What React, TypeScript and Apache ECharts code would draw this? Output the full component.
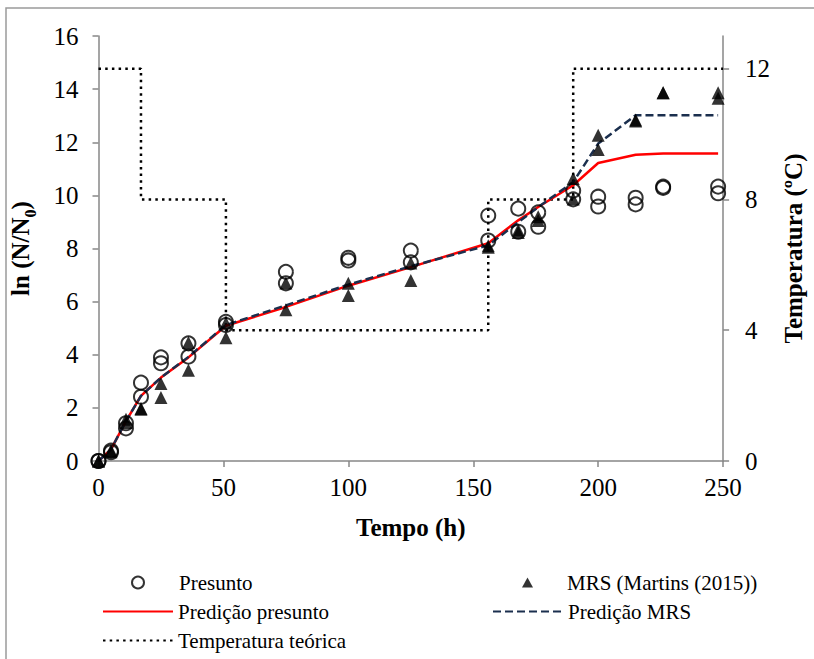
import React, { useEffect, useRef } from "react";
import * as echarts from "echarts";

const times = [0, 5, 11, 17, 25, 36, 51, 75, 100, 125, 156, 168, 176, 190, 200, 215, 226, 248];
const presuntoA = [0, 0.39, 1.42, 2.95, 3.9, 4.43, 5.24, 7.12, 7.65, 7.92, 9.24, 9.5, 9.36, 10.18, 9.95, 9.91, 10.33, 10.33];
const presuntoB = [0, 0.33, 1.23, 2.42, 3.68, 3.93, 5.12, 6.69, 7.55, 7.48, 8.3, 8.63, 8.82, 9.85, 9.58, 9.66, 10.28, 10.08];
const mrsA = [0, 0.4, 1.57, 1.98, 2.92, 4.46, 5.2, 6.7, 6.69, 7.45, 8.1, 8.7, 9.2, 10.64, 12.26, 12.84, 13.86, 13.86];
const mrsB = [0, 0.35, 1.45, 1.95, 2.39, 3.42, 4.64, 5.69, 6.23, 6.8, 8.05, 8.6, 9.05, 9.86, 11.73, 12.8, 13.86, 13.66];
const predPresunto = [0, 0.44, 1.5, 2.45, 3.14, 3.9, 5.09, 5.8, 6.6, 7.3, 8.2, 9.06, 9.56, 10.38, 11.22, 11.53, 11.58, 11.58];
const predMRS = [0, 0.44, 1.5, 2.45, 3.14, 3.92, 5.12, 5.86, 6.64, 7.33, 8.12, 8.99, 9.56, 10.5, 11.95, 13.02, 13.02, 13.02];
const tempTimes = [0, 17, 17, 51, 51, 156, 156, 190, 190, 250];
const tempValues = [12, 12, 8, 8, 4, 4, 8, 8, 12, 12];
const tempTicks = [0, 4, 8, 12];

const FONT = "'Liberation Serif', 'Times New Roman', serif";

export default function App() {
  const ref = useRef<HTMLDivElement>(null);
  useEffect(() => {
    if (!ref.current) return;
    const chart = echarts.init(ref.current, null, { renderer: "svg" });
    const pair = (xs: number[], ys: number[]) => xs.map((x, i) => [x, ys[i]]);
    const circleStyle = { color: "rgba(255,255,255,0)", borderColor: "#000", borderWidth: 2 };
    const triStyle = { color: "#000" };
    const legendText = { fontFamily: FONT, fontSize: 21, color: "#000" };
    const axisLine = { show: true, lineStyle: { color: "#878787", width: 1.5 } };
    const axisTick = { show: true, inside: false, length: 6, lineStyle: { color: "#878787", width: 1.5 } };
    const tickFont = { fontFamily: FONT, fontSize: 25, color: "#000" };
    const nameFont = { fontFamily: FONT, fontSize: 25, fontWeight: "bold", color: "#000" };
    const lineLegend = (name: string, left: number, top: number) => ({
      data: [name],
      left,
      top,
      itemWidth: 70,
      itemHeight: 12,
      itemStyle: { opacity: 0 },
      textStyle: legendText,
    });
    chart.setOption({
      animation: false,
      backgroundColor: "#fff",
      grid: { left: 95, right: 65, top: 36, bottom: 198, containLabel: false },
      xAxis: {
        type: "value",
        min: 0,
        max: 250,
        interval: 50,
        name: "Tempo (h)",
        nameLocation: "middle",
        nameGap: 54,
        nameTextStyle: nameFont,
        axisLine,
        axisTick,
        splitLine: { show: false },
        axisLabel: { ...tickFont, margin: 14 },
      },
      yAxis: [
        {
          type: "value",
          min: 0,
          max: 16,
          interval: 2,
          name: "{a|ln (N/N}{b|0}{a|)}",
          nameLocation: "middle",
          nameRotate: 90,
          nameGap: 60,
          nameTextStyle: {
            rich: {
              a: { ...nameFont, lineHeight: 36 },
              b: { ...nameFont, fontSize: 16, lineHeight: 36, verticalAlign: "bottom" },
            },
          },
          axisLine,
          axisTick,
          splitLine: { show: false },
          axisLabel: { ...tickFont, margin: 20 },
        },
        {
          type: "value",
          min: 0,
          max: 13,
          position: "right",
          name: "Temperatura (ºC)",
          nameLocation: "middle",
          nameRotate: 90,
          nameGap: 46,
          nameTextStyle: nameFont,
          axisLine,
          axisTick: { ...axisTick, customValues: tempTicks },
          splitLine: { show: false },
          axisLabel: { ...tickFont, margin: 22, customValues: tempTicks },
        },
      ],
      legend: [
        {
          data: ["Presunto"],
          left: 126,
          top: 567,
          itemWidth: 12,
          itemHeight: 12,
          textStyle: { ...legendText, padding: [0, 0, 0, 30] },
        },
        {
          data: ["MRS (Martins (2015))"],
          left: 517,
          top: 567,
          itemWidth: 11,
          itemHeight: 10,
          textStyle: { ...legendText, padding: [0, 0, 0, 29] },
        },
        lineLegend("Predição presunto", 97, 596),
        lineLegend("Predição MRS", 487, 596),
        lineLegend("Temperatura teórica", 97, 625),
      ],
      graphic: [
        {
          type: "rect",
          shape: { x: 6, y: 8, width: 900, height: 800 },
          style: { fill: "none", stroke: "#9a9a9a", lineWidth: 1.5 },
          silent: true,
        },
      ],
      series: [
        {
          name: "Temperatura teórica",
          type: "line",
          yAxisIndex: 1,
          data: pair(tempTimes, tempValues),
          symbol: "none",
          lineStyle: { color: "#000", width: 2.5, type: [2.5, 4.2] },
          itemStyle: { color: "#000" },
          z: 1,
        },
        {
          name: "Predição presunto",
          type: "line",
          data: pair(times, predPresunto),
          symbol: "none",
          lineStyle: { color: "#ff0000", width: 2.5 },
          itemStyle: { color: "#ff0000" },
          z: 2,
        },
        {
          name: "Predição MRS",
          type: "line",
          data: pair(times, predMRS),
          symbol: "none",
          lineStyle: { color: "#1b2f4e", width: 2.5, type: [8, 4] },
          itemStyle: { color: "#1b2f4e" },
          z: 3,
        },
        {
          name: "MRS (Martins (2015))",
          type: "scatter",
          data: pair(times, mrsA).concat(pair(times, mrsB)),
          symbol: "triangle",
          symbolSize: 13,
          itemStyle: triStyle,
          z: 4,
        },
        {
          name: "Presunto",
          type: "scatter",
          data: pair(times, presuntoA).concat(pair(times, presuntoB)),
          symbol: "circle",
          symbolSize: 14,
          itemStyle: circleStyle,
          z: 5,
        },
      ],
    });
    return () => chart.dispose();
  }, []);
  return <div ref={ref} style={{ width: 814, height: 659, position: "absolute", left: 0, top: 0 }} />;
}
